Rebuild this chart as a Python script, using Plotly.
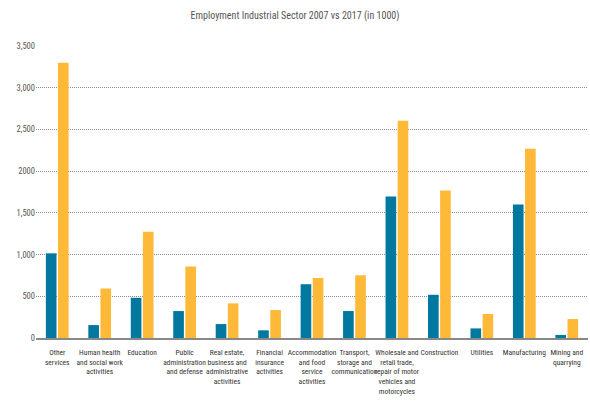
import plotly.graph_objects as go

categories = [
    "Other<br>services",
    "Human health<br>and social work<br>activities",
    "Education",
    "Public<br>administration<br>and defense",
    "Real estate,<br>business and<br>administrative<br>activities",
    "Financial<br>insurance<br>activities",
    "Accommodation<br>and food<br>service<br>activities",
    "Transport,<br>storage and<br>communication",
    "Wholesale and<br>retail trade,<br>repair of motor<br>vehicles and<br>motorcycles",
    "Construction",
    "Utilities",
    "Manufacturing",
    "Mining and<br>quarrying",
]
values_2007 = [1015, 155, 482, 323, 167, 92, 645, 323, 1697, 518, 115, 1600, 37]
values_2017 = [3300, 593, 1275, 857, 415, 335, 720, 752, 2605, 1768, 288, 2268, 227]

y_tickvals = [0, 500, 1000, 1500, 2000, 2500, 3000, 3500]
y_ticktext = ["0", "500", "1,000", "1,500", "2000", "2,500", "3,000", "3,500"]

FONT = "Roboto Condensed, DejaVu Sans Condensed, Liberation Sans Narrow, Lato, sans-serif"

fig = go.Figure()
fig.add_trace(go.Bar(x=categories, y=values_2007, name="2007",
                     marker=dict(color="#00789f", line=dict(width=0))))
fig.add_trace(go.Bar(x=categories, y=values_2017, name="2017",
                     marker=dict(color="#feb939", line=dict(width=0))))

fig.update_layout(
    width=590, height=412,
    margin=dict(l=36, r=2, t=46, b=74),
    paper_bgcolor="white", plot_bgcolor="white",
    showlegend=False,
    barmode="group", bargap=0.43, bargroupgap=0.12,
    title=dict(text="Employment Industrial Sector 2007 vs 2017 (in 1000)",
               x=0.5, xanchor="center", y=0.962, yanchor="middle",
               font=dict(family=FONT, size=10, color="#555555")),
    font=dict(family=FONT, size=7.5, color="#333333"),
)
fig.update_xaxes(
    showgrid=False, showline=True, linecolor="#888888", linewidth=1.5,
    ticks="outside", ticklen=6, tickcolor="rgba(0,0,0,0)",
    tickangle=0, automargin=False,
    tickfont=dict(family=FONT, size=7.5, color="#333333"),
)
fig.update_yaxes(
    range=[0, 3500], tickvals=y_tickvals, ticktext=y_ticktext,
    showgrid=True, gridcolor="#8a8a8a", griddash="1px,1px", gridwidth=1,
    zeroline=False, showline=False, ticks="", automargin=False,
    tickfont=dict(family=FONT, size=8.5, color="#555555"),
)

fig.write_html("out.html")
